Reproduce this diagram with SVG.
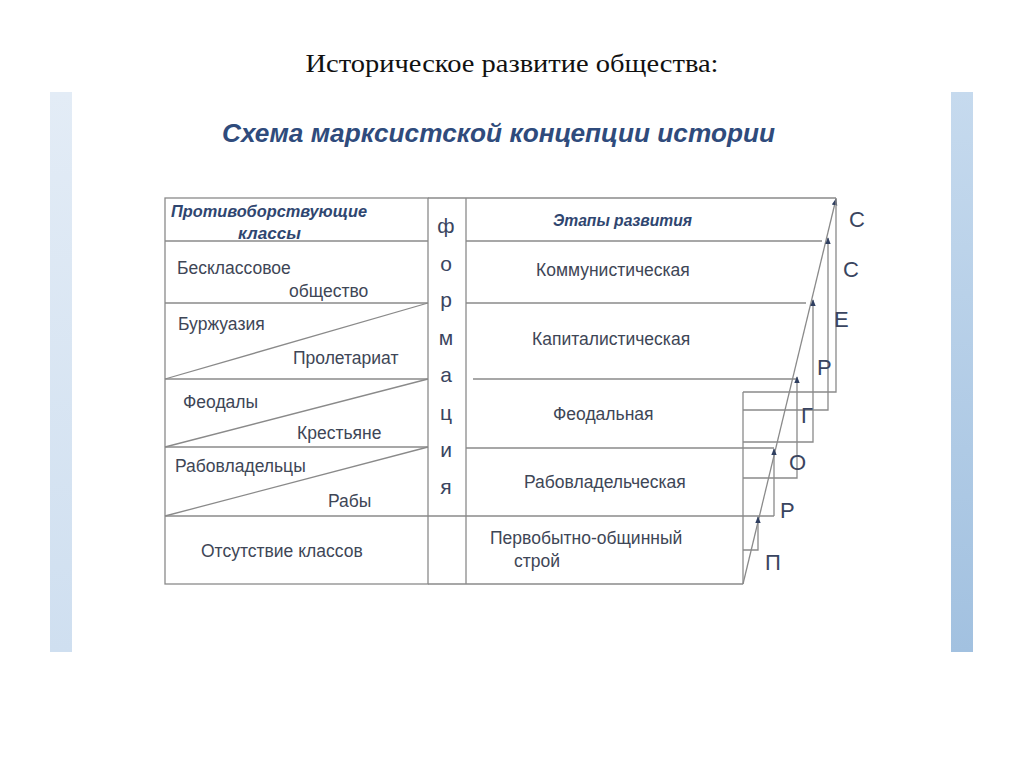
<svg xmlns="http://www.w3.org/2000/svg" width="1024" height="767" viewBox="0 0 1024 767">
<defs>
<linearGradient id="gl" x1="0" y1="0" x2="0" y2="1"><stop offset="0" stop-color="#e3ecf6"/><stop offset="1" stop-color="#cfdff0"/></linearGradient>
<linearGradient id="gr" x1="0" y1="0" x2="0" y2="1"><stop offset="0" stop-color="#c6daee"/><stop offset="1" stop-color="#a2c1e0"/></linearGradient>
<marker id="ah" viewBox="0 0 10 10" refX="9" refY="5" markerWidth="7" markerHeight="7" orient="auto" markerUnits="userSpaceOnUse"><path d="M0,1 L10,5 L0,9 z" fill="#2f3f60"/></marker>
<style>
.ln{stroke:#8a8a8a;stroke-width:1.3;fill:none}
.t{font-family:"Liberation Sans",Arial,sans-serif;font-size:17.5px;fill:#3e4656}
.h{font-family:"Liberation Sans",Arial,sans-serif;font-size:16px;font-weight:bold;font-style:italic;fill:#2f4670}
.f{font-family:"Liberation Sans",Arial,sans-serif;font-size:21px;fill:#3a4560;text-anchor:middle}
.s{font-family:"Liberation Sans",Arial,sans-serif;font-size:22px;fill:#3a4560}
</style>
</defs>
<rect x="0" y="0" width="1024" height="767" fill="#ffffff"/>
<rect x="50" y="92" width="22" height="560" fill="url(#gl)"/>
<rect x="951" y="92" width="22" height="560" fill="url(#gr)"/>
<text x="512" y="72" text-anchor="middle" font-family="'Liberation Serif','Times New Roman',serif" font-size="26" fill="#111" textLength="413" lengthAdjust="spacingAndGlyphs">Историческое развитие общества:</text>
<text x="222" y="142" font-family="'Liberation Sans',Arial,sans-serif" font-size="25" font-weight="bold" font-style="italic" fill="#2f4b7c" textLength="553" lengthAdjust="spacingAndGlyphs">Схема марксистской концепции истории</text>

<g id="table">
<rect class="ln" x="165" y="198" width="263" height="386"/>
<line class="ln" x1="428" y1="198" x2="836" y2="198"/>
<line class="ln" x1="466" y1="198" x2="466" y2="584"/>
<line class="ln" x1="428" y1="584" x2="743" y2="584"/>
<line class="ln" x1="165" y1="241" x2="428" y2="241"/>
<line class="ln" x1="165" y1="303" x2="428" y2="303"/>
<line class="ln" x1="165" y1="379" x2="428" y2="379"/>
<line class="ln" x1="165" y1="447" x2="428" y2="447"/>
<line class="ln" x1="165" y1="516" x2="466" y2="516"/>
<line class="ln" x1="165" y1="379" x2="428" y2="303"/>
<line class="ln" x1="165" y1="447" x2="428" y2="379"/>
<line class="ln" x1="165" y1="516" x2="428" y2="447"/>
<line class="ln" x1="466" y1="241" x2="822" y2="241"/>
<line class="ln" x1="466" y1="303" x2="806" y2="303"/>
<line class="ln" x1="473" y1="379" x2="797" y2="379"/>
<line class="ln" x1="466" y1="448" x2="774" y2="448"/>
<line class="ln" x1="466" y1="516" x2="774" y2="516"/>
</g>

<g id="left-texts">
<text class="h" x="171" y="217" textLength="196" lengthAdjust="spacingAndGlyphs">Противоборствующие</text>
<text class="h" x="238" y="239" textLength="63" lengthAdjust="spacingAndGlyphs">классы</text>
<text class="t" x="177" y="274">Бесклассовое</text>
<text class="t" x="289" y="297">общество</text>
<text class="t" x="178" y="330">Буржуазия</text>
<text class="t" x="293" y="364">Пролетариат</text>
<text class="t" x="183" y="408">Феодалы</text>
<text class="t" x="297" y="439">Крестьяне</text>
<text class="t" x="175" y="472">Рабовладельцы</text>
<text class="t" x="328" y="507">Рабы</text>
<text class="t" x="201" y="557">Отсутствие классов</text>
</g>

<g id="formation">
<text class="f" x="446" y="233">ф</text>
<text class="f" x="446" y="271">о</text>
<text class="f" x="446" y="307">р</text>
<text class="f" x="446" y="345">м</text>
<text class="f" x="446" y="382">а</text>
<text class="f" x="446" y="420">ц</text>
<text class="f" x="446" y="457">и</text>
<text class="f" x="446" y="494">я</text>
</g>

<g id="right-texts">
<text class="h" x="553" y="226" textLength="139" lengthAdjust="spacingAndGlyphs">Этапы развития</text>
<text class="t" x="536" y="276">Коммунистическая</text>
<text class="t" x="532" y="345">Капиталистическая</text>
<text class="t" x="553" y="420">Феодальная</text>
<text class="t" x="524" y="488">Рабовладельческая</text>
<text class="t" x="490" y="544">Первобытно-общинный</text>
<text class="t" x="514" y="567">строй</text>
</g>

<g id="connectors">
<line class="ln" x1="743" y1="584" x2="836" y2="199" marker-end="url(#ah)"/>
<line class="ln" x1="743" y1="392" x2="743" y2="584"/>
<polyline class="ln" points="743,550 758,550 758,517" marker-end="url(#ah)"/>
<line class="ln" x1="774" y1="516" x2="774" y2="449" marker-end="url(#ah)"/>
<polyline class="ln" points="743,478 797,478 797,377" marker-end="url(#ah)"/>
<polyline class="ln" points="743,442 813,442 813,300" marker-end="url(#ah)"/>
<polyline class="ln" points="743,410 828,410 828,238" marker-end="url(#ah)"/>
<polyline class="ln" points="743,392 836,392 836,198"/>
</g>

<g id="sergopr">
<text class="s" x="849" y="227">С</text>
<text class="s" x="843" y="277">С</text>
<text class="s" x="834" y="327">Е</text>
<text class="s" x="817" y="375">Р</text>
<text class="s" x="801" y="423">Г</text>
<text class="s" x="789" y="470">О</text>
<text class="s" x="780" y="518">Р</text>
<text class="s" x="765" y="570">П</text>
</g>
</svg>
